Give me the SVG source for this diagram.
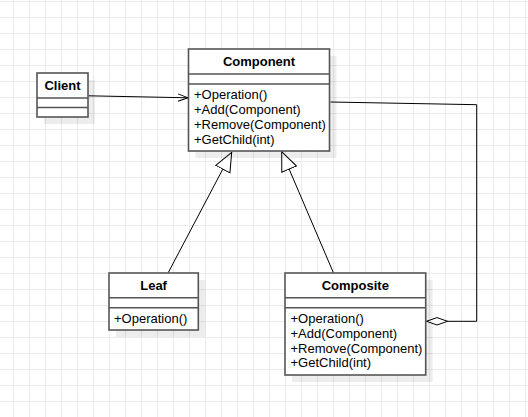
<svg xmlns="http://www.w3.org/2000/svg" width="528" height="417" viewBox="0 0 528 417">
<style>
.box{fill:#fff;stroke:#555;stroke-width:1.6}
.shadow{fill:#000;fill-opacity:0.07}
.div{stroke:#555;stroke-width:1.6}
.title{font-family:"Liberation Sans",Arial,sans-serif;font-size:13px;font-weight:bold;text-anchor:middle;fill:#000}
.member{font-family:"Liberation Sans",Arial,sans-serif;font-size:13px;fill:#000}
.conn{fill:none;stroke:#000;stroke-width:1}
</style>
<defs>
<pattern id="grid" width="16" height="16" patternUnits="userSpaceOnUse" x="13" y="1">
<path d="M0.5,0 V16 M0,0.5 H16" fill="none" stroke="#ebebeb" stroke-width="1"/>
</pattern>
<marker id="gen" viewBox="0 0 20 18" markerWidth="20" markerHeight="18" refX="19.5" refY="9" orient="auto" markerUnits="userSpaceOnUse">
<path d="M0.5,1 L19.5,9 L0.5,17 Z" fill="#fff" stroke="#000" stroke-width="1"/>
</marker>
<marker id="open" viewBox="0 0 12 10" markerWidth="12" markerHeight="10" refX="11" refY="5" orient="auto" markerUnits="userSpaceOnUse">
<path d="M1,1.3 L11,5 L1,8.7" fill="none" stroke="#000" stroke-width="1"/>
</marker>
<marker id="agg" viewBox="0 0 23 10" markerWidth="23" markerHeight="10" refX="22" refY="5" orient="auto" markerUnits="userSpaceOnUse">
<path d="M1,5 L11.5,1.3 L22,5 L11.5,8.7 Z" fill="#fff" stroke="#000" stroke-width="1"/>
</marker>
</defs>
<rect width="528" height="417" fill="#fff"/>
<rect width="528" height="417" fill="url(#grid)"/>

<g id="connectors">
<path class="conn" d="M88.5,95.8 L188,97.8" marker-end="url(#open)"/>
<path class="conn" d="M168.3,272.5 L231.7,152.3" marker-end="url(#gen)"/>
<path class="conn" d="M333.3,272.5 L281.7,151.7" marker-end="url(#gen)"/>
<path class="conn" d="M330.5,102 L476.7,104.7 L476.7,321.3 L426.5,321.3" marker-end="url(#agg)"/>
</g>

<g id="client">
<rect class="shadow" x="44" y="80" width="51" height="44"/>
<rect class="box" x="37" y="73" width="51" height="44"/>
<line class="div" x1="37" y1="98" x2="88" y2="98"/>
<line class="div" x1="37" y1="107.5" x2="88" y2="107.5"/>
<text class="title" x="62.5" y="90">Client</text>
</g>

<g id="component">
<rect class="shadow" x="195.5" y="56" width="141" height="102"/>
<rect class="box" x="188.5" y="49" width="141" height="102"/>
<line class="div" x1="188.5" y1="74" x2="329.5" y2="74"/>
<line class="div" x1="188.5" y1="84" x2="329.5" y2="84"/>
<text class="title" x="259" y="66">Component</text>
<text class="member" x="194" y="99">+Operation()</text>
<text class="member" x="194" y="114">+Add(Component)</text>
<text class="member" x="194" y="129">+Remove(Component)</text>
<text class="member" x="194" y="144">+GetChild(int)</text>
</g>

<g id="leaf">
<rect class="shadow" x="116" y="280" width="89.3" height="57"/>
<rect class="box" x="109" y="273" width="89.3" height="57"/>
<line class="div" x1="109" y1="297.7" x2="198.3" y2="297.7"/>
<line class="div" x1="109" y1="307.7" x2="198.3" y2="307.7"/>
<text class="title" x="153.6" y="290">Leaf</text>
<text class="member" x="114" y="323.3">+Operation()</text>
</g>

<g id="composite">
<rect class="shadow" x="292" y="280" width="140.7" height="102"/>
<rect class="box" x="285" y="273" width="140.7" height="102"/>
<line class="div" x1="285" y1="297.7" x2="425.7" y2="297.7"/>
<line class="div" x1="285" y1="307.7" x2="425.7" y2="307.7"/>
<text class="title" x="355.3" y="290">Composite</text>
<text class="member" x="290.5" y="323.3">+Operation()</text>
<text class="member" x="290.5" y="338">+Add(Component)</text>
<text class="member" x="290.5" y="352.7">+Remove(Component)</text>
<text class="member" x="290.5" y="367.4">+GetChild(int)</text>
</g>
</svg>
